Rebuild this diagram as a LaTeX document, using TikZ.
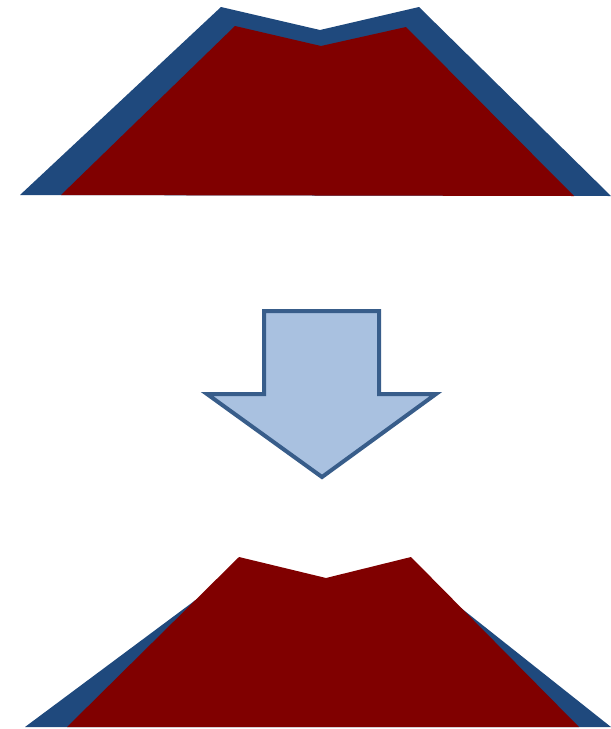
\documentclass[tikz,border=0pt]{standalone}
\definecolor{darkblue}{HTML}{1F497D}
\definecolor{maroon}{HTML}{800000}
\definecolor{arrowline}{HTML}{385D8A}
\definecolor{arrowfill}{HTML}{A9C1E0}
\tikzset{
  outerpoly/.style={fill=darkblue, draw=none},
  innerpoly/.style={fill=maroon, draw=none},
  bigarrow/.style={fill=arrowfill, draw=arrowline, line width=4pt, line join=miter}
}
\begin{document}
\begin{tikzpicture}[x=1pt,y=-1pt]
\useasboundingbox (0,0) rectangle (611,729);
% top shape
\fill[outerpoly] (20,195) -- (221,7) -- (320,30) -- (419,7) -- (611,196) -- cycle;
\fill[innerpoly] (61,195) -- (235,26) -- (321,46) -- (406,27) -- (574,196) -- cycle;
% arrow
\draw[bigarrow] (264,311) -- (379,311) -- (379,394) -- (436,394) -- (322,477) -- (207,394) -- (264,394) -- cycle;
% bottom shape
\fill[outerpoly] (25,727) -- (197,599) -- (461,608) -- (611,727) -- cycle;
\fill[innerpoly] (67,727) -- (239,557) -- (326,578) -- (411,557) -- (579,727) -- cycle;
\end{tikzpicture}
\end{document}
